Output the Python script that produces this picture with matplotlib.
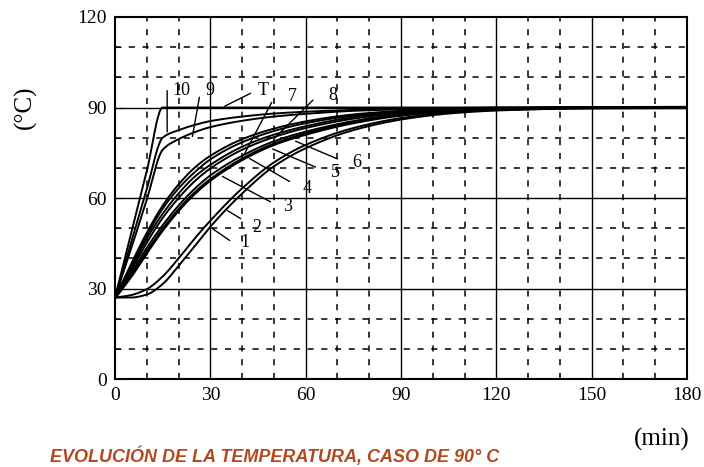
import matplotlib
matplotlib.use("Agg")
import matplotlib.pyplot as plt
import numpy as np

# ---- data ----
t = [0, 5, 10, 15, 20, 25, 30, 40, 50, 60, 75, 90, 105, 120, 150, 180]

curve_T = [27, 48, 69, 90, 90, 90, 90, 90, 90, 90, 90, 90, 90, 90, 90, 90]
curve_10 = [27, 45, 63, 80, 82.5, 84.2, 85.5, 87, 88, 88.6, 89.2, 89.6, 89.8, 90, 90, 90]
curve_9 = [27, 43, 59.5, 76, 79.5, 81.8, 83.5, 85.6, 87, 87.9, 88.9, 89.4, 89.7, 89.9, 90, 90]
curve_8 = [27, 38, 48.5, 57.5, 64.5, 70, 74, 79.5, 83, 85.4, 87.7, 88.9, 89.5, 89.8, 90, 90]
curve_7 = [27, 37.2, 47.5, 56.5, 63.2, 68.5, 72.8, 78.5, 82.2, 84.8, 87.3, 88.7, 89.4, 89.7, 90, 90]
curve_6 = [27, 36.5, 46.5, 54.8, 61.5, 67, 71, 77, 81, 83.8, 86.8, 88.5, 89.3, 89.6, 90, 90]
curve_5 = [27, 35.8, 45.2, 53.4, 60, 65.5, 69.8, 76, 80.2, 83.2, 86.3, 88.2, 89.2, 89.6, 90, 90]
curve_4 = [27, 35, 43.5, 51, 57.5, 63, 67.5, 74, 78.8, 82, 85.5, 87.8, 89, 89.5, 90, 90]
curve_3 = [27, 34, 42, 49.5, 56, 61.5, 66, 72.8, 77.8, 81.2, 85, 87.5, 88.8, 89.4, 89.9, 90]
curve_2 = [27, 27.8, 29.8, 34, 40, 46.5, 52.5, 63.2, 71.8, 77.6, 83.2, 86.5, 88.3, 89.2, 89.9, 90]
curve_1 = [27, 27, 28, 31.5, 37.5, 44, 50.5, 61.5, 70.5, 76.5, 82.5, 86, 88, 89, 89.8, 90]

x_ticks = [0, 30, 60, 90, 120, 150, 180]
y_ticks = [0, 30, 60, 90, 120]

series = [("T", curve_T), ("10", curve_10), ("9", curve_9), ("8", curve_8),
          ("7", curve_7), ("6", curve_6), ("5", curve_5), ("4", curve_4),
          ("3", curve_3), ("2", curve_2), ("1", curve_1)]

# label text position, leader start, leader end (data coords)
label_layout = {
    "10": ((17.9, 95.8), (16.4, 96.5), (16.4, 81.0)),
    "9": ((28.5, 95.8), (26.7, 94.3), (24.2, 79.5)),
    "T": ((45.0, 95.8), (43.4, 95.1), (33.7, 90.0)),
    "7": ((54.4, 93.6), (49.7, 92.5), (40.3, 73.8)),
    "8": ((67.0, 94.0), (62.9, 93.1), (49.4, 79.0)),
    "6": ((74.8, 71.9), (70.8, 72.6), (56.0, 79.2)),
    "5": ((67.8, 68.4), (63.9, 69.9), (48.8, 76.6)),
    "4": ((59.0, 63.2), (55.7, 65.0), (41.5, 73.6)),
    "3": ((53.0, 57.2), (49.7, 58.3), (33.0, 67.6)),
    "2": ((43.3, 50.3), (40.3, 52.7), (34.6, 56.3)),
    "1": ((39.5, 45.3), (36.8, 45.4), (29.9, 50.4)),
}


def pchip(x, y, xn):
    h = np.diff(x)
    d = np.diff(y) / h
    m = np.zeros_like(y)
    for k in range(1, len(x) - 1):
        if d[k - 1] * d[k] > 0:
            w1 = 2 * h[k] + h[k - 1]
            w2 = h[k] + 2 * h[k - 1]
            m[k] = (w1 + w2) / (w1 / d[k - 1] + w2 / d[k])
    m[0] = d[0]
    m[-1] = d[-1]
    idx = np.clip(np.searchsorted(x, xn) - 1, 0, len(x) - 2)
    s = (xn - x[idx]) / h[idx]
    h00 = 2 * s**3 - 3 * s**2 + 1
    h10 = s**3 - 2 * s**2 + s
    h01 = -2 * s**3 + 3 * s**2
    h11 = s**3 - s**2
    return h00 * y[idx] + h10 * h[idx] * m[idx] + h01 * y[idx + 1] + h11 * h[idx] * m[idx + 1]


plt.rcParams["font.family"] = ["Liberation Serif", "DejaVu Serif"]

fig = plt.figure(figsize=(7.04, 4.67), dpi=100)
ax = fig.add_axes([0.1634, 0.1884, 0.8125, 0.7752])
ax.set_xlim(0, 180)
ax.set_ylim(0, 120)

# grid
for v in range(10, 180, 10):
    if v % 30 == 0:
        ax.axvline(v, color="black", lw=1.0, zorder=1)
    else:
        ax.axvline(v, color="black", lw=1.1, ls=(0, (4, 5)), zorder=1)
for v in range(10, 120, 10):
    if v % 30 == 0:
        ax.axhline(v, color="black", lw=1.0, zorder=1)
    else:
        ax.axhline(v, color="black", lw=1.1, ls=(0, (4, 5)), zorder=1)

ts = np.array(t, dtype=float)
tt = np.linspace(0, 180, 721)
for name, vals in series:
    yy = pchip(ts, np.array(vals, dtype=float), tt)
    lw = 2.4 if name == "3" else 1.4
    ax.plot(tt, yy, color="black", lw=lw, zorder=3, solid_capstyle="round")

for name, (txt, p0, p1) in label_layout.items():
    ax.annotate("", xy=p1, xytext=p0,
                arrowprops=dict(arrowstyle="-", color="black", lw=1.0), zorder=4)
    ax.text(txt[0], txt[1], name, fontsize=13, ha="left", va="center", zorder=5)

for s in ax.spines.values():
    s.set_linewidth(1.5)
    s.set_color("black")

ax.set_xticks(x_ticks)
ax.set_yticks(y_ticks)
ax.set_yticks(range(0, 121, 10), minor=True)
ax.tick_params(axis="both", which="major", labelsize=14, direction="in", length=5, pad=6)
ax.tick_params(axis="both", which="minor", direction="in", length=4)
ax.tick_params(axis="x", which="major", length=0, pad=6)

fig.text(0.036, 0.77, "(°C)", rotation=90, fontsize=18, ha="center", va="center")
fig.text(0.94, 0.058, "(min)", fontsize=18, ha="center", va="center")
fig.text(0.071, 0.003, "EVOLUCIÓN DE LA TEMPERATURA, CASO DE 90° C",
         fontsize=13, fontweight="bold", fontstyle="italic", color="#b4491e",
         family=["Liberation Sans", "DejaVu Sans"], ha="left", va="bottom")

fig.savefig("out.png", dpi=100)
